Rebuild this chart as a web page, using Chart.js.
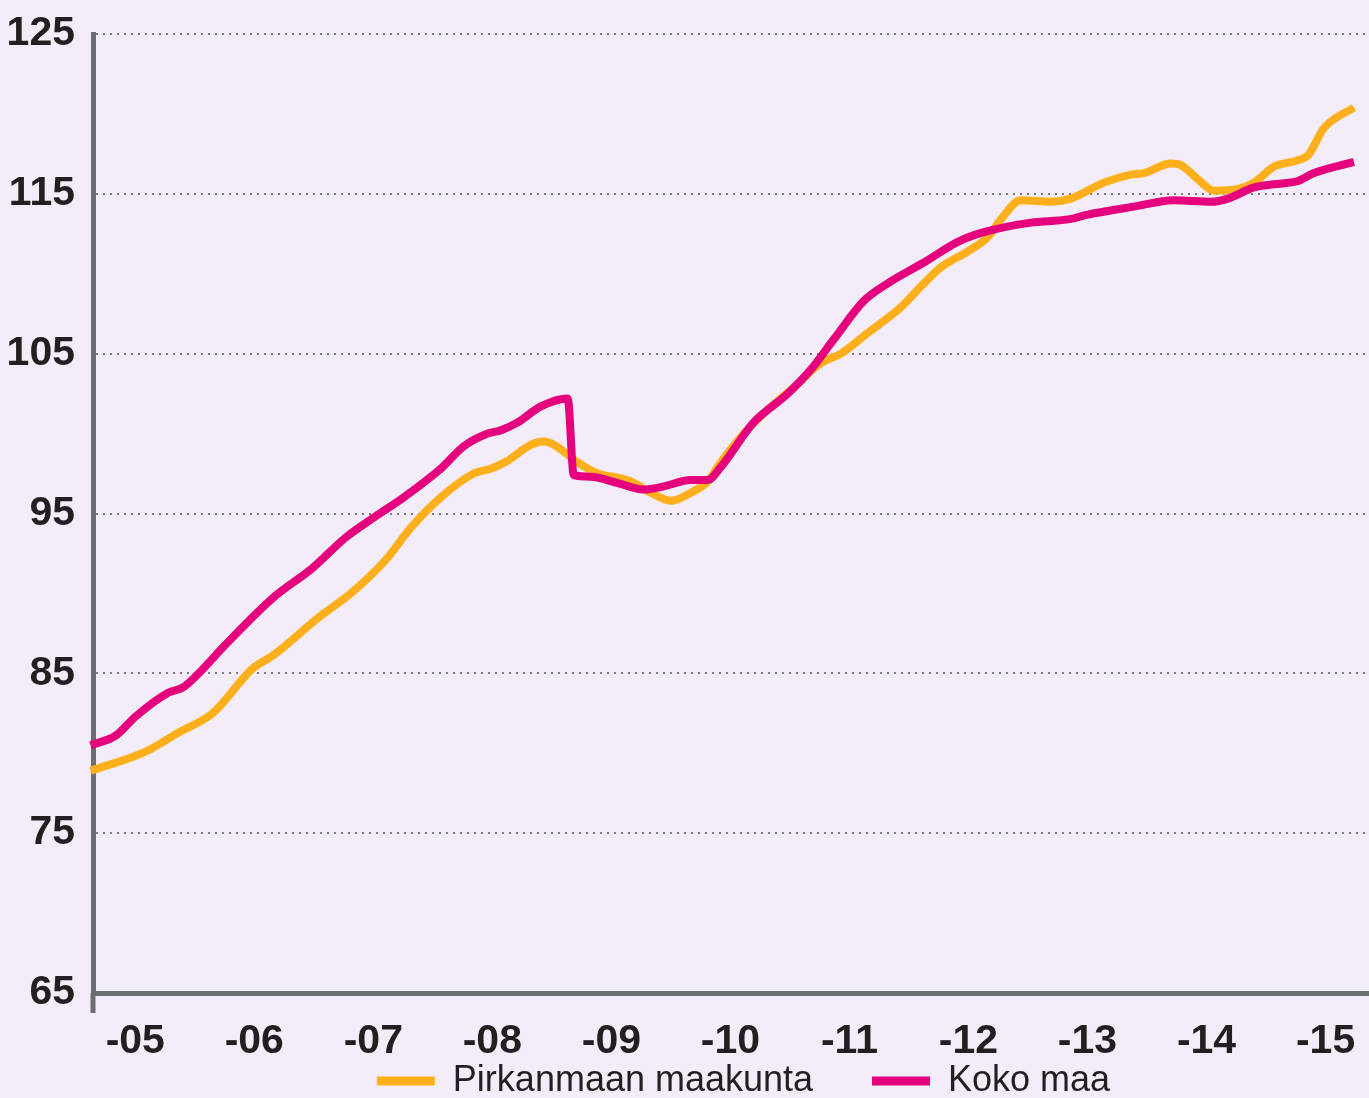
<!DOCTYPE html>
<html>
<head>
<meta charset="utf-8">
<script src="https://cdn.jsdelivr.net/npm/chart.js@4.4.0/dist/chart.umd.min.js"></script>
<style>
  html, body { margin: 0; padding: 0; background: #f3edf9; overflow: hidden; }
  #wrap { width: 1369px; height: 1098px; overflow: hidden; }
  canvas { display: block; }
</style>
</head>
<body>
<div id="wrap"><canvas id="hintaChart" width="1369" height="1109"></canvas></div>
<script>
// x ticks (years) and their labels
const yearTicks = [2005, 2006, 2007, 2008, 2009, 2010, 2011, 2012, 2013, 2014, 2015];
const yearLabels = ['-05', '-06', '-07', '-08', '-09', '-10', '-11', '-12', '-13', '-14', '-15'];
const yTicks = [65, 75, 85, 95, 105, 115, 125];

// Pirkanmaan maakunta (decimal year / index value)
const pirkanmaaTime = [2005.000, 2005.462, 2005.739, 2006.025, 2006.361, 2006.529, 2006.916, 2007.202, 2007.479, 2007.689,
  2007.941, 2008.218, 2008.361, 2008.504, 2008.697, 2008.807, 2008.891, 2009.092, 2009.261, 2009.454,
  2009.538, 2009.706, 2009.874, 2010.042, 2010.185, 2010.294, 2010.487, 2010.689, 2010.908, 2011.134,
  2011.303, 2011.529, 2011.807, 2011.975, 2012.143, 2012.370, 2012.538, 2012.647, 2012.815, 2013.067,
  2013.235, 2013.513, 2013.739, 2013.849, 2014.076, 2014.160, 2014.303, 2014.437, 2014.639, 2014.773,
  2014.941, 2015.143, 2015.227, 2015.361, 2015.613];
const pirkanmaaValue = [78.9, 80.1, 81.3, 82.5, 85.3, 86.1, 88.5, 90.1, 92.1, 94.1,
  96.0, 97.5, 97.8, 98.3, 99.3, 99.5, 99.3, 98.2, 97.5, 97.2,
  97.0, 96.3, 95.8, 96.3, 97.0, 98.2, 100.0, 101.5, 102.9, 104.4,
  105.0, 106.3, 107.9, 109.2, 110.4, 111.4, 112.3, 113.4, 114.6, 114.5,
  114.7, 115.7, 116.2, 116.3, 116.9, 116.8, 115.9, 115.2, 115.3, 115.7,
  116.7, 117.1, 117.4, 119.1, 120.4];

// Koko maa
const kokoMaaTime = [2005.000, 2005.210, 2005.378, 2005.655, 2005.773, 2005.908, 2006.134, 2006.529, 2006.866, 2007.143,
  2007.370, 2007.647, 2007.941, 2008.134, 2008.336, 2008.445, 2008.588, 2008.782, 2009.008, 2009.059,
  2009.202, 2009.429, 2009.647, 2009.815, 2010.042, 2010.185, 2010.294, 2010.571, 2010.857, 2011.050,
  2011.244, 2011.496, 2011.697, 2012.000, 2012.286, 2012.504, 2012.899, 2013.210, 2013.378, 2013.765,
  2014.101, 2014.412, 2014.555, 2014.773, 2014.941, 2015.143, 2015.277, 2015.613];
const kokoMaaValue = [80.5, 81.1, 82.3, 83.8, 84.1, 85.0, 86.8, 89.7, 91.6, 93.5,
  94.7, 96.1, 97.8, 99.2, 100.0, 100.2, 100.7, 101.7, 102.2, 97.4,
  97.3, 96.9, 96.5, 96.7, 97.1, 97.1, 97.9, 100.7, 102.5, 104.0,
  105.9, 108.3, 109.4, 110.7, 112.0, 112.6, 113.2, 113.4, 113.7, 114.2,
  114.6, 114.5, 114.7, 115.4, 115.6, 115.8, 116.3, 117.0];

const ORANGE = '#fdb01b';
const PINK = '#e5007e';
const AXIS = '#6d6e71';
const TEXT = '#231f20';

const toPoints = (xs, ys) => xs.map((x, i) => ({ x: x, y: ys[i] }));

// y axis line continues a bit below the x axis, legend sits right of centre,
// x labels may spill over the legend box
const axisExtras = {
  id: 'axisExtras',
  afterLayout(chart) {
    chart.legend.left += 118;
    chart.scales.x.bottom = chart.height;
  },
  afterDraw(chart) {
    const ctx = chart.ctx;
    const x = chart.scales.y.right;
    const y = chart.scales.x.top;
    ctx.save();
    ctx.strokeStyle = AXIS;
    ctx.lineWidth = 5;
    ctx.beginPath();
    ctx.moveTo(x, y);
    ctx.lineTo(x, y + 20);
    ctx.stroke();
    ctx.restore();
  }
};

const ctx = document.getElementById('hintaChart').getContext('2d');
new Chart(ctx, {
  type: 'line',
  data: {
    datasets: [{
      label: 'Pirkanmaan maakunta',
      data: toPoints(pirkanmaaTime, pirkanmaaValue),
      borderColor: ORANGE,
      backgroundColor: ORANGE,
      order: 1
    }, {
      label: 'Koko maa',
      data: toPoints(kokoMaaTime, kokoMaaValue),
      borderColor: PINK,
      backgroundColor: PINK,
      order: 0
    }]
  },
  options: {
    responsive: false,
    animation: false,
    layout: { padding: { top: 34, left: 0, right: 0, bottom: 0 } },
    elements: {
      line: { borderWidth: 8, cubicInterpolationMode: 'monotone', fill: false, borderCapStyle: 'butt' },
      point: { radius: 0 }
    },
    datasets: { line: { clip: false } },
    plugins: {
      tooltip: { enabled: false },
      legend: {
        position: 'bottom',
        labels: {
          boxWidth: 58,
          boxHeight: 9,
          padding: 59,
          color: TEXT,
          font: { family: 'Liberation Sans', size: 36 },
          sort: (a, b) => a.datasetIndex - b.datasetIndex,
          generateLabels(chart) {
            const items = Chart.defaults.plugins.legend.labels.generateLabels(chart);
            items.forEach(it => { it.lineWidth = 0; });
            return items;
          }
        }
      }
    },
    scales: {
      x: {
        type: 'linear',
        min: 2005.02,
        max: 2015.74,
        grid: { display: false, drawTicks: false },
        border: { display: true, color: AXIS, width: 5 },
        afterFit(scale) {
          scale.height = 11;
          scale.paddingLeft = 0;
          scale.paddingRight = 0;
        },
        afterBuildTicks(scale) {
          scale.ticks = yearTicks.map(y => ({ value: y + 0.375 }));
        },
        ticks: {
          autoSkip: false,
          maxRotation: 0,
          padding: 24,
          color: TEXT,
          font: { family: 'Liberation Sans', size: 41, weight: 'bold' },
          callback: (v, i) => yearLabels[i]
        }
      },
      y: {
        min: 65,
        max: 125,
        grid: { color: '#7c7c82', lineWidth: 2, drawTicks: false },
        border: { display: true, color: AXIS, width: 5, dash: [2, 5] },
        afterFit(scale) {
          scale.width = 93;
          scale.paddingTop = 0;
          scale.paddingBottom = 0;
        },
        afterBuildTicks(scale) {
          scale.ticks = yTicks.map(v => ({ value: v }));
        },
        ticks: {
          padding: 18,
          color: TEXT,
          font: { family: 'Liberation Sans', size: 41, weight: 'bold' }
        }
      }
    }
  },
  plugins: [axisExtras]
});
</script>
</body>
</html>
